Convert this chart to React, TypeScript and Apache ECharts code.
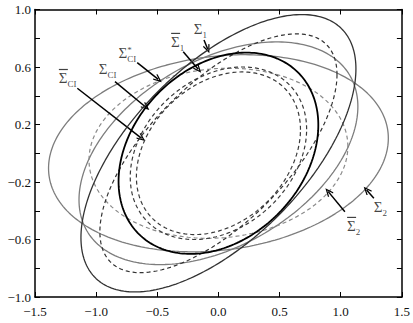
import React, { useEffect, useRef } from 'react';
import * as echarts from 'echarts';

// Axis ticks
const xTicks = [-1.5, -1.0, -0.5, 0.0, 0.5, 1.0, 1.5];
const yTicks = [-1.0, -0.6, -0.2, 0.2, 0.6, 1.0];

// Ellipses x^T Σ^{-1} x = 1, given by their covariance entries
const ellipseNames = ['Σ2', 'Σ*CI', 'Σ̄2', 'Σ̄1', 'Σ̄CI', 'Σ̄CI b', 'Σ1', 'ΣCI'];
const varX = [1.93, 1.3, 1.12, 0.94, 0.52, 0.45, 1.264, 0.667];
const varY = [0.47, 0.6, 0.35, 0.69, 0.36, 0.32, 0.931, 0.49];
const covXY = [0.145, 0.37, 0.05, 0.53, 0.12, 0.11, 0.66, 0.16];

// Styles per ellipse
const ellColor = ['#7d7d7d', '#7d7d7d', '#8a8a8a', '#333333', '#3a3a3a', '#3a3a3a', '#333333', '#000000'];
const ellWidth = [1.3, 1.3, 1.2, 1.2, 1.2, 1.2, 1.3, 1.8];
const ellDashed = [false, false, true, true, true, true, false, false];

// Annotations (data coordinates)
const annLabels = ['Σ̄CI', 'ΣCI', 'Σ*CI', 'Σ̄1', 'Σ1', 'Σ̄2', 'Σ2'];
const annLabelPos = [[-1.309, 0.52], [-0.983, 0.575], [-0.8215, 0.69], [-0.391, 0.771], [-0.206, 0.852], [1.048, -0.509], [1.266, -0.387]];
const arrowFrom = [[-1.154, 0.452], [-0.846, 0.498], [-0.664, 0.63], [-0.288, 0.706], [-0.118, 0.788], [1.034, -0.407], [1.271, -0.313]];
const arrowTo = [[-0.628, 0.104], [-0.593, 0.32], [-0.492, 0.514], [-0.165, 0.584], [-0.088, 0.725], [0.898, -0.267], [1.212, -0.256]];

const SERIF = 'Liberation Serif';

function ellipsePoints(sxx: number, syy: number, sxy: number) {
  const l11 = Math.sqrt(sxx);
  const l21 = sxy / l11;
  const l22 = Math.sqrt(syy - l21 * l21);
  const pts: number[][] = [];
  const n = 240;
  for (let i = 0; i <= n; i++) {
    const t = (i / n) * Math.PI * 2;
    const c = Math.cos(t), s = Math.sin(t);
    pts.push([l11 * c, l21 * c + l22 * s]);
  }
  return pts;
}

function labelRich(name: string) {
  const bar = name.startsWith('Σ̄');
  const star = name.includes('*');
  const sub = name.replace('Σ̄', '').replace('Σ', '').replace('*', '');
  const body = star ? `{s|Σ}{st|*}{sub|${sub}}` : `{s|Σ}{sub|${sub}}`;
  return bar ? `{bar| }\n${body}` : body;
}

const fmt = (v: number) => (Math.abs(v) < 1e-9 ? '0.0' : v.toFixed(1).replace('-', '\u2212'));

export default function App() {
  const ref = useRef<HTMLDivElement>(null);
  useEffect(() => {
    document.body.style.margin = '0';
    const chart = echarts.init(ref.current!, null, { renderer: 'svg' });
    const ellSeries = ellipseNames.map((name, i) => ({
      name,
      type: 'line',
      data: ellipsePoints(varX[i], varY[i], covXY[i]),
      showSymbol: false,
      symbol: 'none',
      smooth: false,
      silent: true,
      lineStyle: { color: ellColor[i], width: ellWidth[i], type: ellDashed[i] ? [4, 3] : 'solid' },
      z: 2 + i,
    }));
    const arrowPath = 'path://M5,0 L10,8 L8.6,8.8 L5,3 L1.4,8.8 L0,8 Z';
    const annSeries = {
      type: 'scatter',
      symbolSize: 1,
      itemStyle: { color: 'rgba(0,0,0,0)' },
      silent: true,
      z: 20,
      data: annLabels.map((t, i) => ({
        value: annLabelPos[i],
        label: {
          show: true,
          position: 'right',
          distance: 0,
          align: 'left',
          formatter: labelRich(t),
          rich: {
            bar: { fontSize: 2, width: 9, height: 1.2, lineHeight: 1.2, backgroundColor: '#111' },
            s: { fontFamily: SERIF, fontSize: 15, color: '#111', lineHeight: 18, verticalAlign: 'top' },
            st: { fontFamily: SERIF, fontSize: 9, color: '#111', verticalAlign: 'top', width: 0, lineHeight: 9 },
            sub: { fontFamily: SERIF, fontSize: 9, color: '#111', verticalAlign: 'bottom', lineHeight: 9 },
          },
        },
      })),
      markLine: {
        silent: true,
        symbol: ['none', arrowPath],
        symbolSize: [7, 9],
        lineStyle: { color: '#000', width: 1.5, type: 'solid' },
        label: { show: false },
        emphasis: { disabled: true },
        data: arrowFrom.map((f, i) => [{ coord: f }, { coord: arrowTo[i] }]),
      },
    };
    const axisCommon = {
      type: 'value',
      axisLine: { show: true, onZero: false, lineStyle: { color: '#000', width: 1.5 } },
      axisTick: { show: true, inside: true, length: 5, lineStyle: { color: '#000', width: 1 } },
      splitLine: { show: false },
    };
    chart.setOption({
      animation: false,
      grid: { left: 35, right: 11, top: 9.5, bottom: 26, containLabel: false },
      xAxis: [
        {
          ...axisCommon,
          position: 'bottom',
          min: xTicks[0],
          max: xTicks[xTicks.length - 1],
          interval: 0.5,
          axisLabel: { formatter: fmt, fontFamily: SERIF, fontSize: 13, color: '#111', margin: 8, showMinLabel: true, showMaxLabel: true },
        },
        { ...axisCommon, position: 'top', min: xTicks[0], max: xTicks[xTicks.length - 1], interval: 0.5, axisLabel: { show: false } },
      ],
      yAxis: [
        {
          ...axisCommon,
          position: 'left',
          min: yTicks[0],
          max: yTicks[yTicks.length - 1],
          interval: 0.2,
          axisLabel: {
            formatter: (v: number) => (yTicks.some((t) => Math.abs(t - v) < 1e-6) ? fmt(v) : ''),
            fontFamily: SERIF,
            fontSize: 13,
            color: '#111',
            margin: 4,
            padding: [5, 0, 0, 0],
            showMinLabel: true,
            showMaxLabel: true,
          },
        },
        { ...axisCommon, position: 'right', min: yTicks[0], max: yTicks[yTicks.length - 1], interval: 0.2, axisLabel: { show: false } },
      ],
      series: [...ellSeries, annSeries],
    });
    return () => chart.dispose();
  }, []);
  return <div ref={ref} style={{ width: 413, height: 323 }} />;
}
